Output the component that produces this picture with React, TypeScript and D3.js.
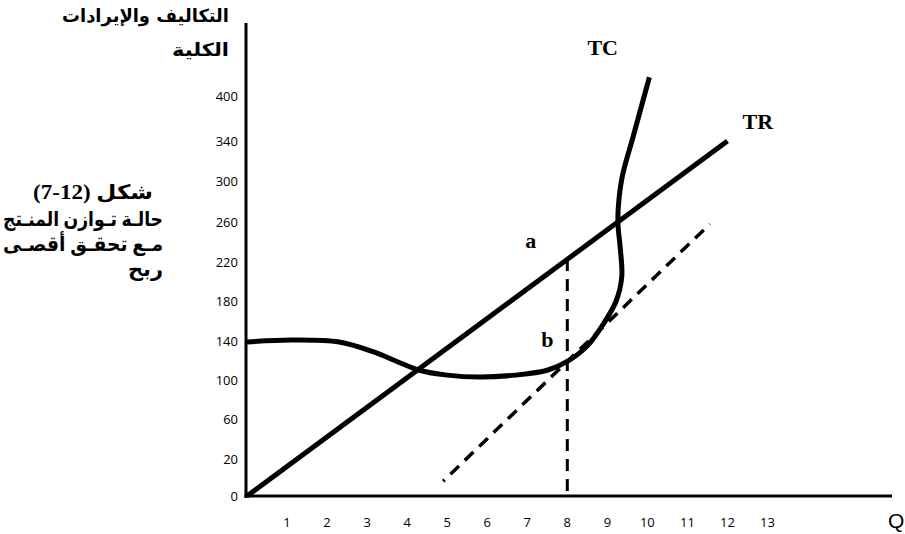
import React from 'react';
import * as d3 from 'd3';

// Quantity axis ticks
const xTicks = [1, 2, 3, 4, 5, 6, 7, 8, 9, 10, 11, 12, 13];
// Cost / revenue axis ticks (unevenly valued, evenly spaced in the original)
const yTicks = [0, 20, 60, 100, 140, 180, 220, 260, 300, 340, 400];

// Total cost curve (TC)
const tcQ = [0, 1.1, 2.3, 3.15, 3.8, 4.3, 5.0, 5.8, 6.7, 7.5, 8.0, 8.5, 8.9, 9.22, 9.36, 9.32, 9.27, 9.27, 9.37, 9.64, 10.05];
const tcV = [139, 141, 139, 129, 118, 110, 105, 103, 105, 110, 119, 135, 157, 180, 205, 235, 255, 272, 304, 345, 425];

// Total revenue line (TR)
const trQ = [0, 12];
const trV = [0, 340];

// Dashed tangent line to TC at b
const tangentQ = [4.9, 11.56];
const tangentV = [8, 258];

// Profit maximising output and the points a (on TR) and b (on TC)
const optimumQ = 8;
const pointA = 223;
const pointB = 119;

const yTitle = ['التكاليف والإيرادات', 'الكلية'];
const caption = ['شكل (12-7)', 'حالـة تـوازن المنـتج', 'مـع تحقـق أقصـى', 'ربح'];

type P = [number, number];

export default function App() {
  const x = d3.scaleLinear().domain([0, 13]).range([247, 767.5]);
  const y = d3
    .scaleLinear()
    .domain(yTicks)
    .range([496, 459, 419, 380, 341, 301, 262, 222, 181, 141, 96]);

  const straight = d3
    .line<P>()
    .x((d) => x(d[0]))
    .y((d) => y(d[1]));
  const smooth = d3
    .line<P>()
    .x((d) => x(d[0]))
    .y((d) => y(d[1]))
    .curve(d3.curveCatmullRom.alpha(0.5));

  const tcPts: P[] = tcQ.map((q, i) => [q, tcV[i]]);
  const trPts: P[] = trQ.map((q, i) => [q, trV[i]]);
  const tanPts: P[] = tangentQ.map((q, i) => [q, tangentV[i]]);
  const vertPts: P[] = [
    [optimumQ, pointA],
    [optimumQ, 0],
  ];

  const tcEnd = tcPts[tcPts.length - 1];
  const trEnd = trPts[trPts.length - 1];

  const arabicBold = "'DejaVu Sans', sans-serif";
  const captionFont = "'Liberation Serif', 'DejaVu Sans', serif";

  const titleLayout = [
    { right: 229, base: 22, len: 167 },
    { right: 229, base: 56, len: 57 },
  ];
  const captionLayout = [
    { right: 153, base: 199, len: 120 },
    { right: 163, base: 226, len: 160 },
    { right: 163, base: 251, len: 160 },
    { right: 163, base: 276, len: 35 },
  ];

  return (
    <svg
      width={905}
      height={534}
      style={{ position: 'absolute', left: 0, top: 0, background: '#fff' }}
    >
      {/* axes */}
      <line x1={246} y1={23} x2={246} y2={498} stroke="#000" strokeWidth={3} />
      <line x1={244.5} y1={y(0)} x2={892} y2={y(0)} stroke="#000" strokeWidth={3} />

      {/* y tick labels */}
      {yTicks.map((t) => (
        <text
          key={'y' + t}
          x={238}
          y={y(t)}
          dy="0.35em"
          textAnchor="end"
          fontFamily="'Open Sans', sans-serif"
          fontSize={13}
          fill="#000"
        >
          {t}
        </text>
      ))}

      {/* x tick labels */}
      {xTicks.map((t) => (
        <text
          key={'x' + t}
          x={x(t)}
          y={527}
          textAnchor="middle"
          fontFamily="'Open Sans', sans-serif"
          fontSize={13}
          fill="#000"
        >
          {t}
        </text>
      ))}
      <text x={888} y={528} fontFamily="'Liberation Sans', sans-serif" fontSize={21} fill="#000">
        Q
      </text>

      {/* y axis title */}
      {yTitle.map((s, i) => (
        <text
          key={'t' + i}
          x={titleLayout[i].right - titleLayout[i].len}
          y={titleLayout[i].base}
          direction="rtl"
          textAnchor="end"
          textLength={titleLayout[i].len}
          lengthAdjust="spacingAndGlyphs"
          fontFamily={arabicBold}
          fontWeight="bold"
          fontSize={18}
          fill="#000"
        >
          {s}
        </text>
      ))}

      {/* caption */}
      {caption.map((s, i) => (
        <text
          key={'c' + i}
          x={captionLayout[i].right - captionLayout[i].len}
          y={captionLayout[i].base}
          direction="rtl"
          textAnchor="end"
          textLength={captionLayout[i].len}
          lengthAdjust="spacingAndGlyphs"
          fontFamily={captionFont}
          fontWeight="bold"
          fontSize={20}
          fill="#000"
        >
          {s}
        </text>
      ))}

      {/* dashed lines */}
      <path
        d={straight(vertPts) || ''}
        fill="none"
        stroke="#000"
        strokeWidth={3}
        strokeDasharray="12 8"
      />
      <path
        d={straight(tanPts) || ''}
        fill="none"
        stroke="#000"
        strokeWidth={3.5}
        strokeDasharray="12 8"
        strokeDashoffset={10}
      />

      {/* TR */}
      <path d={straight(trPts) || ''} fill="none" stroke="#000" strokeWidth={5} />
      {/* TC */}
      <path d={smooth(tcPts) || ''} fill="none" stroke="#000" strokeWidth={5} />

      {/* labels */}
      <g fontFamily="'Liberation Serif', serif" fontWeight="bold" fontSize={22} fill="#000">
        <text x={x(tcEnd[0]) - 62} y={y(tcEnd[1]) - 22}>TC</text>
        <text x={x(trEnd[0]) + 15} y={y(trEnd[1]) - 12}>TR</text>
        <text x={x(optimumQ) - 42} y={y(pointA) - 11}>a</text>
        <text x={x(optimumQ) - 26} y={y(pointB) - 14}>b</text>
      </g>
    </svg>
  );
}
